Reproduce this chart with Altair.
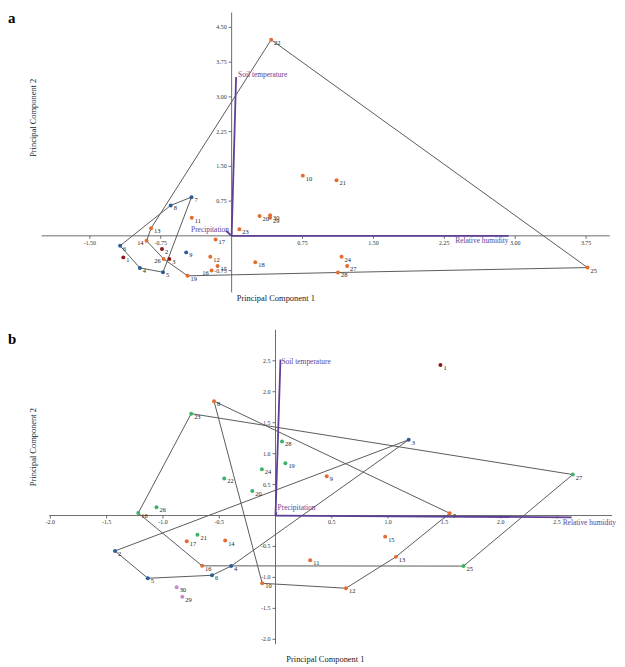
import altair as alt
import pandas as pd

FONT = "Liberation Serif"
PURPLE = "#5D3F96"

# ---------------- Panel a data ----------------
A_ID = list(range(1, 31))
A_X = [-1.146, -0.737, -0.659, -0.971, -0.726, -1.180, -0.425, -0.645, -0.481, 0.753,
       -0.422, -0.226, -0.852, -0.900, -0.149, -0.212, -0.170, 0.250, -0.467, 0.296,
       1.110, 0.418, 0.082, 1.163, 3.765, -0.719, 1.222, 1.125, 0.407, 0.407]
A_Y = [-0.465, -0.285, -0.499, -0.692, -0.786, -0.214, 0.835, 0.657, -0.357, 1.300,
       0.392, -0.450, 0.165, -0.107, -0.649, -0.749, -0.079, -0.572, -0.863, 0.428,
       1.199, 4.233, 0.143, -0.450, -0.685, -0.499, -0.649, -0.792, 0.392, 0.443]
A_GROUP = ["g1"] * 3 + ["g2"] * 6 + ["g3"] * 21
A_HULLS = {"blue": [6, 8, 7, 5, 4, 6], "orange": [22, 25, 28, 19, 26, 14, 13, 22]}
A_LEFT_LABELS = [14, 16, 26]

# ---------------- Panel b data ----------------
B_ID = list(range(1, 31))
B_X = [1.465, -1.425, 1.183, -0.394, -1.134, -0.564, 1.547, -0.546, 0.455, -0.118,
       0.308, 0.626, 1.069, -0.447, 0.974, -0.652, -0.788, -1.219, 0.088, -0.206,
       -0.693, -0.455, -0.749, -0.121, 1.670, -1.057, 2.640, 0.058, -0.828, -0.878]
B_Y = [2.431, -0.572, 1.223, -0.817, -1.014, -0.966, 0.037, 1.848, 0.636, -1.095,
       -0.721, -1.175, -0.668, -0.405, -0.341, -0.813, -0.417, 0.040, 0.845, 0.396,
       -0.309, 0.598, 1.646, 0.748, -0.817, 0.133, 0.662, 1.197, -1.314, -1.159]
B_GROUP = ["g1"] + ["g2"] * 5 + ["g3"] * 11 + ["g4"] * 11 + ["g5"] * 2
B_HULLS = {"h1": [18, 23, 27, 25, 16, 18], "h2": [8, 7, 13, 12, 10, 8], "h3": [2, 3, 4, 6, 5, 2]}
B_LEFT_LABELS = []

# ---------------- Loadings (vectors) ----------------
VEC_NAMES = ["Soil temperature", "Relative humidity", "Precipitation"]
A_VEC_X = [0.047, 2.93, -0.06]
A_VEC_Y = [3.43, 0.0, 0.11]
B_VEC_X = [0.044, 2.63, 0.01]
B_VEC_Y = [2.52, -0.03, 0.05]

# ---------------- Ticks ----------------
A_XTICKS = [-1.5, -0.75, 0.75, 1.5, 2.25, 3.0, 3.75]
A_YTICKS = [-0.75, 0.75, 1.5, 2.25, 3.0, 3.75, 4.5]
B_XTICKS = [-2.0, -1.5, -1.0, -0.5, 0.5, 1.0, 1.5, 2.0, 2.5]
B_YTICKS = [-2.0, -1.5, -1.0, -0.5, 0.5, 1.0, 1.5, 2.0, 2.5]

GROUP_DOMAIN = ["g1", "g2", "g3", "g4", "g5"]
GROUP_COLORS = ["#8B1A1A", "#2A5C9A", "#E36C2F", "#3BB36A", "#C38BCB"]


def make_panel(ids, xs, ys, groups, hulls, left_labels, vx, vy, xticks, yticks, fmt,
               xdom, ydom, xext, yext, W, H, letter, letter_y, t1, t2, vec_label_props):
    sx = alt.Scale(domain=xdom, nice=False, zero=False)
    sy = alt.Scale(domain=ydom, nice=False, zero=False)

    def X(f):
        return alt.X(f, type="quantitative", scale=sx, axis=None)

    def Y(f):
        return alt.Y(f, type="quantitative", scale=sy, axis=None)

    pts = pd.DataFrame({"id": ids, "x": xs, "y": ys, "group": groups})
    pts["lab"] = pts["id"].astype(str)
    pts["left"] = pts["id"].isin(left_labels)

    lookup = {i: (x, y) for i, x, y in zip(ids, xs, ys)}
    rows = []
    for name, seq in hulls.items():
        for k, i in enumerate(seq):
            rows.append({"hull": name, "ord": k, "x": lookup[i][0], "y": lookup[i][1]})
    hdf = pd.DataFrame(rows)

    axdf = pd.DataFrame({"x1": [xext[0], 0.0], "x2": [xext[1], 0.0],
                         "y1": [0.0, yext[0]], "y2": [0.0, yext[1]]})
    xt = pd.DataFrame({"v": xticks, "z": 0.0})
    xt["lab"] = [format(v, fmt) for v in xticks]
    yt = pd.DataFrame({"v": yticks, "z": 0.0})
    yt["lab"] = [format(v, fmt) for v in yticks]

    vdf = pd.DataFrame({"name": VEC_NAMES, "x": vx, "y": vy, "x0": 0.0, "y0": 0.0})

    layers = []
    layers.append(alt.Chart(axdf).mark_rule(color="#6b6b6b", strokeWidth=1).encode(
        x=X("x1"), x2="x2", y=Y("y1"), y2="y2"))
    layers.append(alt.Chart(xt).mark_rule(color="#6b6b6b", strokeWidth=1, y2Offset=3).encode(
        x=X("v"), y=Y("z"), y2="z"))
    layers.append(alt.Chart(yt).mark_rule(color="#6b6b6b", strokeWidth=1, xOffset=-3).encode(
        x=X("z"), x2="z", y=Y("v")))
    layers.append(alt.Chart(xt).mark_text(font=FONT, fontSize=6, dy=7, color="#333").encode(
        x=X("v"), y=Y("z"), text="lab:N"))
    layers.append(alt.Chart(yt).mark_text(font=FONT, fontSize=6, align="right", dx=-5,
                                          baseline="middle", color="#333").encode(
        x=X("z"), y=Y("v"), text="lab:N"))
    layers.append(alt.Chart(hdf).mark_line(color="#5a5a5a", strokeWidth=1).encode(
        x=X("x"), y=Y("y"), detail="hull:N", order="ord:Q"))
    layers.append(alt.Chart(vdf).mark_rule(color=PURPLE, strokeWidth=1.8).encode(
        x=X("x0"), y=Y("y0"), x2="x", y2="y"))
    for name, (align, dx, dy) in zip(VEC_NAMES, vec_label_props):
        layers.append(alt.Chart(vdf).transform_filter(alt.datum.name == name).mark_text(
            font=FONT, fontSize=7.5, color=PURPLE, align=align, dx=dx, dy=dy,
            baseline="middle").encode(x=X("x"), y=Y("y"), text="name:N"))
    layers.append(alt.Chart(pts).mark_circle(size=16, opacity=1).encode(
        x=X("x"), y=Y("y"),
        color=alt.Color("group:N", scale=alt.Scale(domain=GROUP_DOMAIN, range=GROUP_COLORS),
                        legend=None)))
    layers.append(alt.Chart(pts).transform_filter("!datum.left").mark_text(
        font=FONT, fontSize=6.5, align="left", dx=3, dy=3, baseline="middle", color="#222").encode(
        x=X("x"), y=Y("y"), text="lab:N"))
    layers.append(alt.Chart(pts).transform_filter("datum.left").mark_text(
        font=FONT, fontSize=6.5, align="right", dx=-3, dy=2, baseline="middle", color="#222").encode(
        x=X("x"), y=Y("y"), text="lab:N"))

    # letters and axis titles (layout text)
    tdf = pd.DataFrame({"t": [letter]})
    layers.append(alt.Chart(tdf).mark_text(font=FONT, fontSize=15, fontWeight="bold",
                                           align="left", baseline="middle", color="black").encode(
        x=alt.value(0), y=alt.value(letter_y), text="t:N"))
    t1df = pd.DataFrame({"t": ["Principal Component 1"]})
    layers.append(alt.Chart(t1df).mark_text(font=FONT, fontSize=8.5, align="center",
                                            baseline="middle", color="#222").encode(
        x=alt.value(t1[0]), y=alt.value(t1[1]), text="t:N"))
    t2df = pd.DataFrame({"t": ["Principal Component 2"]})
    layers.append(alt.Chart(t2df).mark_text(font=FONT, fontSize=8.5, align="center",
                                            baseline="middle", angle=270, color="#222").encode(
        x=alt.value(t2[0]), y=alt.value(t2[1]), text="t:N"))

    return alt.layer(*layers).properties(width=W, height=H)


W = 610
panel_a = make_panel(
    A_ID, A_X, A_Y, A_GROUP, A_HULLS, A_LEFT_LABELS, A_VEC_X, A_VEC_Y,
    A_XTICKS, A_YTICKS, ".2f",
    xdom=[-2.366, 4.035], ydom=[-1.563, 4.861], xext=[-2.01, 4.0], yext=[-1.22, 4.82],
    W=W, H=300, letter="a", letter_y=7, t1=(270, 290), t2=(25, 108),
    vec_label_props=[("left", 2, -2), ("right", 0, 5), ("right", 3, -1)])

panel_b = make_panel(
    B_ID, B_X, B_Y, B_GROUP, B_HULLS, B_LEFT_LABELS, B_VEC_X, B_VEC_Y,
    B_XTICKS, B_YTICKS, ".1f",
    xdom=[-2.376, 2.998], ydom=[-2.356, 3.349], xext=[-2.01, 2.99], yext=[-2.08, 3.0],
    W=W, H=356, letter="b", letter_y=31, t1=(320, 354), t2=(25, 140),
    vec_label_props=[("left", 1, 2), ("left", -9, 6), ("left", 1, -4)])

chart = alt.vconcat(panel_a, panel_b, spacing=0, bounds="flush").properties(
    padding=0
).configure_view(stroke=None)

chart.save("out.html", embed_options={"renderer": "svg", "actions": False})
